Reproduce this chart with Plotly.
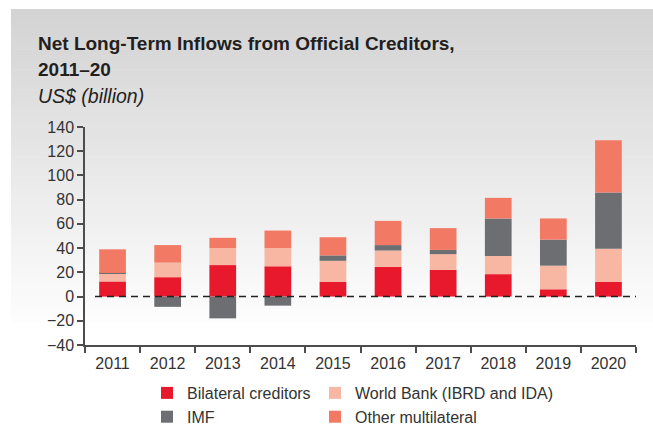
import plotly.graph_objects as go

years = ['2011', '2012', '2013', '2014', '2015', '2016', '2017', '2018', '2019', '2020']
bilateral = [12.5, 16, 26, 25, 12, 24.5, 22, 18.5, 6, 12]
world_bank = [6.5, 12, 14, 15, 17.5, 13.5, 13, 15, 19.5, 27.5]
imf = [0.5, -8.5, -18, -7.5, 4.5, 4.5, 3.5, 31, 21.5, 46.5]
other = [19.5, 14.5, 8.5, 14.5, 15, 20, 18, 17, 17.5, 43]

series_names = ['Bilateral creditors', 'World Bank (IBRD and IDA)', 'IMF', 'Other multilateral']
series_colors = ['#e8192c', '#f7b7a3', '#6d6e71', '#f27a65']
series_legend = ['legend', 'legend2', 'legend', 'legend2']

W, H = 653, 425
L, R, T, B = 85, 17, 127, 80
PW, PH = W - L - R, H - T - B

def px_x(p):
    return (p - L) / PW

def px_y(p):
    return (H - B - p) / PH

FONT = 'Liberation Sans, Arial, sans-serif'

fig = go.Figure()
for name, vals, col, lg in zip(series_names, [bilateral, world_bank, imf, other], series_colors, series_legend):
    fig.add_trace(go.Bar(x=years, y=vals, name=name, marker=dict(color=col, line=dict(width=0)),
                         legend=lg))

# background gradient panel
shapes = []
top_px, bot_px = 9, 330
n = 48
for i in range(n):
    y0 = top_px + (bot_px - top_px) * i / n
    y1 = top_px + (bot_px - top_px) * (i + 1) / n + 0.6
    c = int(round(212 + (255 - 212) * (i / (n - 1))))
    c2 = c - 1 if c < 255 else 255
    shapes.append(dict(type='rect', xref='paper', yref='paper', layer='below',
                       x0=px_x(11), x1=px_x(W + 5), y0=px_y(y1), y1=px_y(y0),
                       fillcolor=f'rgb({c},{c2},{c2})', line=dict(width=0)))
# dashed zero line
shapes.append(dict(type='line', xref='paper', yref='y', x0=px_x(95), x1=1, y0=0, y1=0,
                   line=dict(color='#222222', width=1.5, dash='7px,5px'), layer='above'))

annotations = [
    dict(text='<b>Net Long-Term Inflows from Official Creditors,</b>', xref='paper', yref='paper',
         x=px_x(36), y=px_y(31), xanchor='left', yanchor='top', showarrow=False,
         font=dict(family=FONT, size=19, color='#231f20')),
    dict(text='<b>2011–20</b>', xref='paper', yref='paper',
         x=px_x(36), y=px_y(57), xanchor='left', yanchor='top', showarrow=False,
         font=dict(family=FONT, size=19, color='#231f20')),
    dict(text='<i>US$ (billion)</i>', xref='paper', yref='paper',
         x=px_x(36), y=px_y(83), xanchor='left', yanchor='top', showarrow=False,
         font=dict(family=FONT, size=19.5, color='#231f20')),
]

fig.update_layout(
    width=W, height=H,
    margin=dict(l=L, r=R, t=T, b=B, autoexpand=False),
    paper_bgcolor='white', plot_bgcolor='rgba(0,0,0,0)',
    barmode='relative', bargap=0.515,
    font=dict(family=FONT, size=16, color='#333333'),
    shapes=shapes, annotations=annotations,
    xaxis=dict(type='category', showgrid=False, showline=True, linecolor='#4d4d4d', linewidth=1.5,
               ticks='outside', tickson='boundaries', ticklen=6, tickcolor='#4d4d4d', tickwidth=1.5,
               tickfont=dict(size=16, color='#333333'), zeroline=False, ticklabelstandoff=3),
    yaxis=dict(range=[-40, 140], dtick=20, showgrid=False, showline=True, linecolor='#4d4d4d',
               linewidth=1.5, ticks='outside', ticklen=6, tickcolor='#4d4d4d', tickwidth=1.5,
               tickfont=dict(size=16, color='#333333'), zeroline=False),
    legend=dict(orientation='v', x=px_x(147), y=px_y(376), xanchor='left', yanchor='top',
                bgcolor='rgba(0,0,0,0)', font=dict(size=16, color='#333333'), tracegroupgap=0,
                traceorder='normal'),
    legend2=dict(orientation='v', x=px_x(315), y=px_y(376), xanchor='left', yanchor='top',
                 bgcolor='rgba(0,0,0,0)', font=dict(size=16, color='#333333'), tracegroupgap=0,
                 traceorder='normal'),
)

fig.write_html('out.html', config={'displayModeBar': False},
               post_script="document.body.style.margin='0';document.body.style.overflow='hidden';")
